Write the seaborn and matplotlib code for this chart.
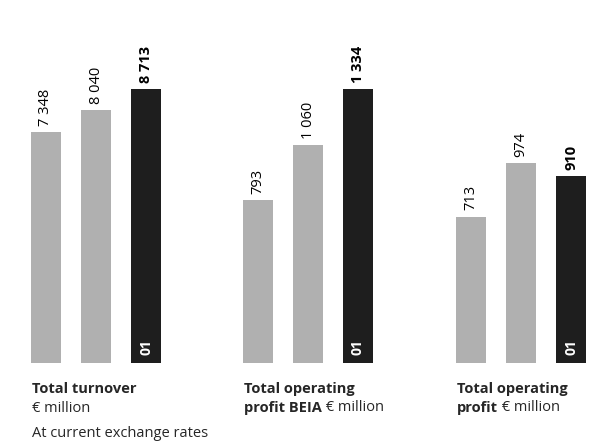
import pandas as pd
import matplotlib.pyplot as plt
import seaborn as sns

# data
years = ['99', '00', '01']
turnover = [7348, 8040, 8713]
profit_beia = [793, 1060, 1334]
profit = [713, 974, 910]

labels_turnover = ['7 348', '8 040', '8 713']
labels_beia = ['793', '1 060', '1 334']
labels_profit = ['713', '974', '910']

bar_colors = ['#b0b0b0', '#b0b0b0', '#1e1e1e']

sns.set_style('white')
plt.rcParams['font.family'] = ['Open Sans', 'DejaVu Sans']

W, H = 597, 442
fig = plt.figure(figsize=(W / 100, H / 100), dpi=100)

# axes placed in pixel coordinates (left, width), shared bottom/top
bottom_px, top_px = 363, 20
def add_axes(left, width):
    return fig.add_axes([left / W, (H - bottom_px) / H, width / W, (bottom_px - top_px) / H])

panels = [
    (add_axes(20.5, 151), turnover, labels_turnover, 8713 * 343 / 274),
    (add_axes(233, 150), profit_beia, labels_beia, 1334 * 343 / 274),
    (add_axes(446, 150), profit, labels_profit, 1334 * 343 / 274),
]

for ax, values, labels, ytop in panels:
    df = pd.DataFrame({'year': years, 'value': values})
    sns.barplot(data=df, x='year', y='value', hue='year', palette=bar_colors,
                legend=False, width=0.6, saturation=1, linewidth=0, ax=ax)
    ax.set_xlim(-0.5, 2.5)
    ax.set_ylim(0, ytop)
    ax.set_axis_off()
    for i, (v, lab) in enumerate(zip(values, labels)):
        ax.annotate(lab, xy=(i, v), xytext=(0, 4.5), textcoords='offset points',
                    rotation=90, ha='center', va='bottom', fontsize=10.5,
                    fontweight='bold' if i == 2 else 'normal', color='black')
    # year marker inside the dark bar
    ax.annotate(years[2], xy=(2, 0), xytext=(0, 6), textcoords='offset points',
                rotation=90, ha='center', va='bottom', fontsize=10,
                fontweight='bold', color='white')

def px(x, y):
    return x / W, 1 - y / H

fs = 10.5
fig.text(*px(32, 393), 'Total turnover', fontsize=fs, fontweight='bold', va='baseline')
fig.text(*px(32, 412), '€ million', fontsize=fs, va='baseline')

fig.text(*px(244, 393), 'Total operating', fontsize=fs, fontweight='bold', va='baseline')
t2 = fig.text(*px(244, 412), 'profit BEIA', fontsize=fs, fontweight='bold', va='baseline')
panels[0][0].annotate(' € million', xy=(1, 0), xycoords=t2, ha='left', va='bottom',
                      fontsize=fs, annotation_clip=False)

fig.text(*px(457, 393), 'Total operating', fontsize=fs, fontweight='bold', va='baseline')
t3 = fig.text(*px(457, 412), 'profit', fontsize=fs, fontweight='bold', va='baseline')
panels[0][0].annotate(' € million', xy=(1, 0), xycoords=t3, ha='left', va='bottom',
                      fontsize=fs, annotation_clip=False)

fig.text(*px(32, 437), 'At current exchange rates', fontsize=fs, va='baseline')

fig.savefig('out.png', dpi=100)
